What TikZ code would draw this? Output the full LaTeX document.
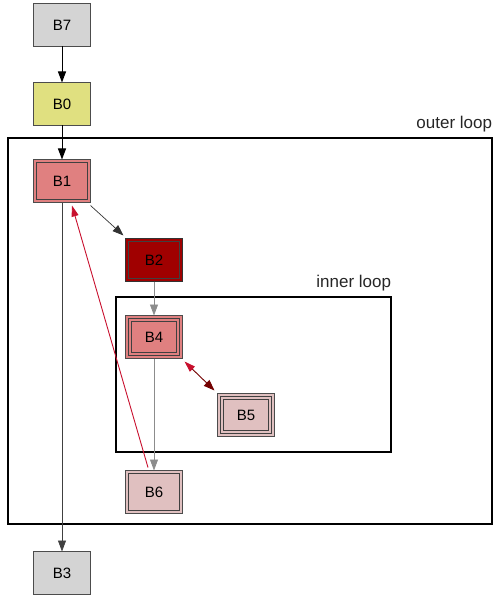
\documentclass[tikz,border=0pt]{standalone}
\usepackage{fontspec}
\setmainfont{Liberation Sans}
\usetikzlibrary{positioning,arrows.meta}
\definecolor{blkgray}{HTML}{D4D4D4}
\definecolor{blkyellow}{HTML}{E0E080}
\definecolor{blkred}{HTML}{E08080}
\definecolor{blkdark}{HTML}{A00000}
\definecolor{blkpink}{HTML}{E0C0C0}
\definecolor{backred}{HTML}{C8102E}
\tikzstyle{blk}=[rectangle, draw=black!70, line width=1pt, outer sep=0pt, minimum width=57pt, minimum height=43pt, inner sep=0pt, font=\fontsize{15}{17}\selectfont]
\tikzstyle{dbl}=[blk, path picture={\draw[black!75, line width=1pt] ([shift={(3pt,3pt)}]path picture bounding box.south west) rectangle ([shift={(-3pt,-3pt)}]path picture bounding box.north east);}]
\tikzstyle{tpl}=[blk, path picture={\draw[black!75, line width=1pt] ([shift={(3pt,3pt)}]path picture bounding box.south west) rectangle ([shift={(-3pt,-3pt)}]path picture bounding box.north east);
  \draw[black!75, line width=1pt] ([shift={(6pt,6pt)}]path picture bounding box.south west) rectangle ([shift={(-6pt,-6pt)}]path picture bounding box.north east);}]
\tikzstyle{loopbox}=[rectangle, draw=black, line width=2.5pt, inner sep=0pt]
\tikzstyle{looplabel}=[font=\fontsize{17}{19}\selectfont, text=black!85, inner sep=1pt]
\tikzstyle{line}=[-{Triangle[length=11pt,width=8pt]}, black, line width=1pt]
\tikzstyle{sline}=[-{Triangle[length=11pt,width=8pt]}, black!45, line width=0.8pt]
\tikzstyle{rline}=[-{Triangle[length=11pt,width=7pt]}, backred, line width=0.9pt]

\begin{document}
\begin{tikzpicture}[x=1pt, y=-1pt]
\useasboundingbox (0,0) rectangle (493,596);

% loops
\node (outer) [loopbox, minimum width=484pt, minimum height=386pt] at (250,331) {};
\node (outerlbl) [looplabel, anchor=south east] at ([yshift=4pt]outer.north east) {outer loop};
\node (inner) [loopbox, minimum width=275pt, minimum height=155pt] at (253.5,374.5) {};
\node (innerlbl) [looplabel, anchor=south east] at ([yshift=4pt]inner.north east) {inner loop};

% blocks
\node (b7) [blk, fill=blkgray] at (62,25) {B7};
\node (b0) [blk, fill=blkyellow, below=36pt of b7] {B0};
\node (b1) [dbl, fill=blkred, below=34pt of b0] {B1};
\node (b2) [dbl, fill=blkdark, draw=black!80, below right=36pt and 35pt of b1] {B2};
\node (b4) [tpl, fill=blkred, below=34pt of b2] {B4};
\node (b5) [tpl, fill=blkpink, below right=35pt and 35pt of b4] {B5};
\node (b6) [dbl, fill=blkpink, below=112pt of b4] {B6};
\node (b3) [blk, fill=blkgray, below=349pt of b1] {B3};

% edges
\draw[line] (b7) -- (b0);
\draw[line] (b0) -- (b1);
\draw[line, black!80, line width=0.7pt] ([yshift=-3pt]b1.south east) -- ([shift={(-2pt,3pt)}]b2.north west);
\draw[sline] (b2) -- (b4);
\draw[sline] (b4) -- (b6);
\draw[line, black!75, line width=0.7pt] (b1.south) -- (b3.north);
\draw[{Triangle[length=11pt,width=7pt,fill=backred,color=backred]}-{Triangle[length=11pt,width=8pt]}, red!45!black, line width=0.9pt] ([shift={(2pt,-3pt)}]b4.south east) -- ([shift={(-3pt,3pt)}]b5.north west);
\draw[rline] ([xshift=-6pt,yshift=3pt]b6.north) -- ([xshift=10pt,yshift=-3pt]b1.south);

\end{tikzpicture}
\end{document}
